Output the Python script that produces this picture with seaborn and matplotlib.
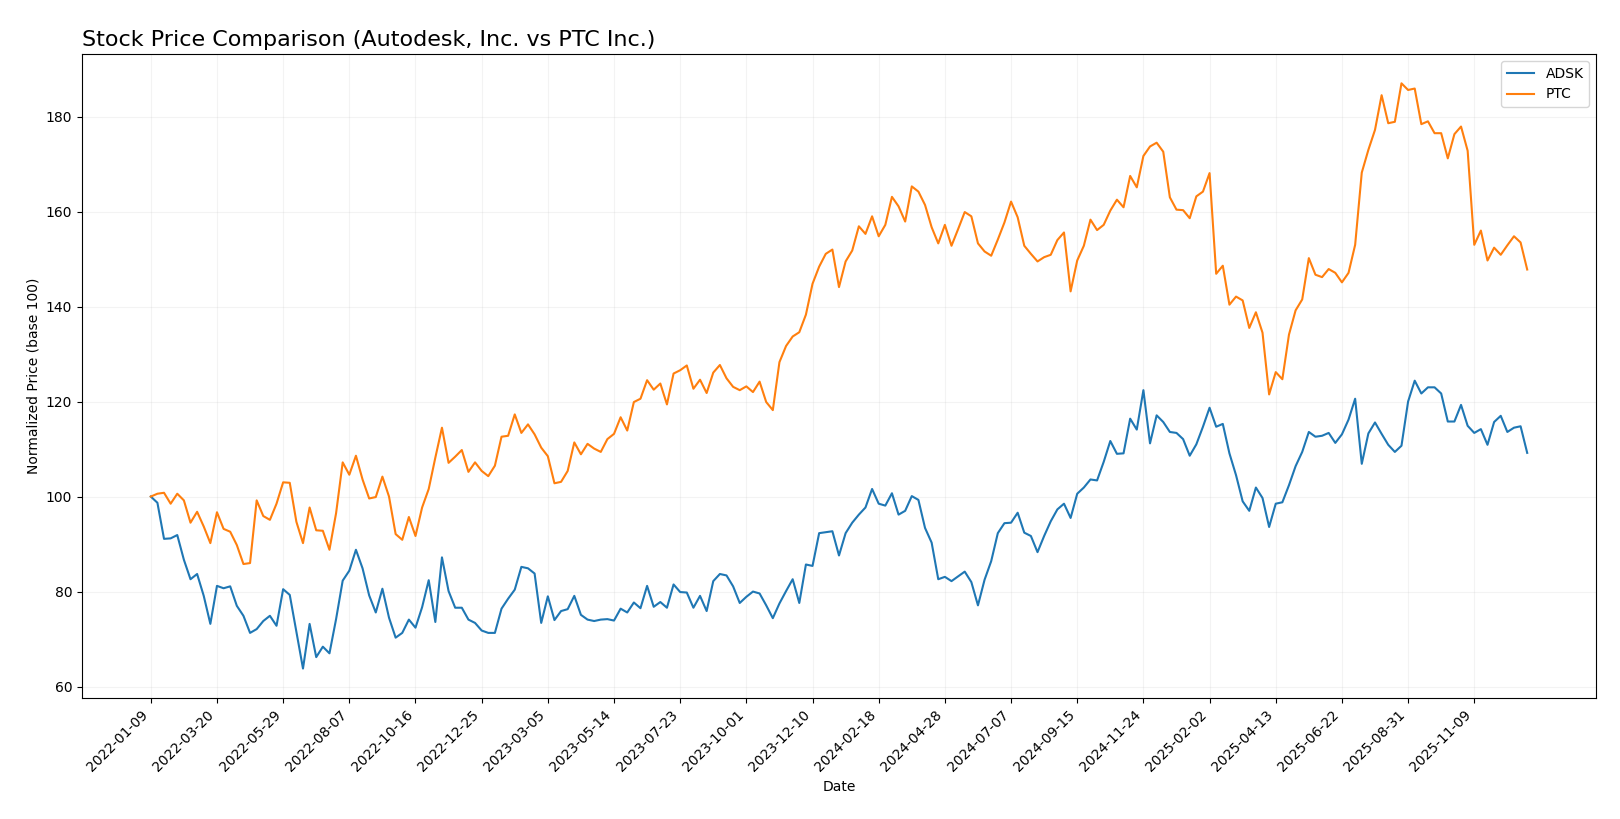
import pandas as pd
import matplotlib
matplotlib.use("Agg")
import matplotlib.pyplot as plt
import seaborn as sns

# weekly closes, normalised to 100 at the first week
start_date = "2022-01-09"
n_weeks = 209

adsk = [
    100, 98.7, 91.1, 91.2, 91.9, 86.7, 82.6, 83.7, 79.1, 73.2,
    81.2, 80.7, 81.1, 77.0, 74.9, 71.3, 72.1, 73.8, 74.9, 72.8,
    80.5, 79.3, 71.6, 63.8, 73.2, 66.2, 68.4, 67.0, 74.2, 82.3,
    84.4, 88.8, 84.9, 79.2, 75.6, 80.6, 74.5, 70.3, 71.3, 74.1,
    72.4, 76.7, 82.4, 73.6, 87.2, 80.1, 76.6, 76.6, 74.1, 73.4,
    71.8, 71.3, 71.3, 76.4, 78.5, 80.4, 85.2, 84.9, 83.8, 73.4,
    79.0, 74.0, 75.9, 76.3, 79.1, 75.1, 74.1, 73.8, 74.1, 74.2,
    73.9, 76.4, 75.6, 77.7, 76.5, 81.2, 76.8, 77.8, 76.6, 81.5,
    79.9, 79.8, 76.6, 79.1, 75.9, 82.2, 83.7, 83.4, 81.1, 77.6,
    78.9, 80.0, 79.6, 77.1, 74.4, 77.5, 80.1, 82.6, 77.6, 85.7,
    85.4, 92.3, 92.5, 92.7, 87.6, 92.3, 94.5, 96.2, 97.7, 101.6,
    98.5, 98.1, 100.7, 96.2, 97.0, 100.1, 99.3, 93.4, 90.3, 82.6,
    83.1, 82.2, 83.2, 84.2, 82.0, 77.1, 82.5, 86.4, 92.3, 94.4,
    94.5, 96.6, 92.4, 91.7, 88.3, 91.7, 94.8, 97.3, 98.5, 95.5,
    100.6, 101.9, 103.6, 103.4, 107.3, 111.7, 109.0, 109.1, 116.4, 114.1,
    122.4, 111.2, 117.1, 115.7, 113.6, 113.4, 112.1, 108.6, 111.0, 114.7,
    118.7, 114.7, 115.3, 109.1, 104.5, 99.0, 97.0, 101.9, 99.7, 93.6,
    98.5, 98.8, 102.4, 106.4, 109.4, 113.6, 112.6, 112.8, 113.4, 111.3,
    113.1, 116.2, 120.6, 106.9, 113.3, 115.6, 113.2, 110.9, 109.4, 110.7,
    120.0, 124.4, 121.7, 123.0, 123.0, 121.7, 115.8, 115.8, 119.3, 114.9,
    113.4, 114.2, 110.9, 115.7, 117.0, 113.6, 114.5, 114.8, 109.2,
]

ptc = [
    100, 100.6, 100.8, 98.5, 100.6, 99.2, 94.5, 96.8, 93.7, 90.2,
    96.7, 93.2, 92.6, 89.8, 85.8, 86.0, 99.2, 95.9, 95.1, 98.5,
    103.0, 102.9, 94.7, 90.2, 97.7, 92.9, 92.8, 88.8, 96.5, 107.2,
    104.6, 108.6, 103.6, 99.6, 99.9, 104.2, 100.0, 92.1, 90.9, 95.7,
    91.7, 97.7, 101.6, 108.2, 114.5, 107.1, 108.4, 109.8, 105.2, 107.2,
    105.4, 104.3, 106.5, 112.6, 112.8, 117.3, 113.4, 115.2, 113.1, 110.3,
    108.5, 102.8, 103.1, 105.4, 111.4, 108.9, 111.1, 110.1, 109.4, 112.1,
    113.2, 116.7, 113.9, 119.9, 120.6, 124.5, 122.5, 123.8, 119.4, 125.9,
    126.6, 127.6, 122.7, 124.6, 121.8, 126.1, 127.7, 124.9, 123.1, 122.4,
    123.2, 122.0, 124.2, 119.9, 118.2, 128.3, 131.7, 133.7, 134.6, 138.3,
    144.8, 148.4, 151.1, 152.0, 144.1, 149.5, 151.8, 156.9, 155.3, 159.0,
    154.8, 157.2, 163.1, 161.1, 157.9, 165.3, 164.2, 161.4, 156.7, 153.3,
    157.2, 152.8, 156.3, 159.9, 159.0, 153.3, 151.6, 150.7, 154.1, 157.7,
    162.1, 158.8, 152.8, 151.1, 149.5, 150.4, 150.9, 154.0, 155.6, 143.2,
    149.7, 152.8, 158.3, 156.1, 157.2, 160.2, 162.5, 160.9, 167.5, 165.1,
    171.7, 173.7, 174.5, 172.6, 163.0, 160.4, 160.3, 158.6, 163.2, 164.2,
    168.1, 146.9, 148.6, 140.4, 142.1, 141.3, 135.5, 138.8, 134.5, 121.5,
    126.2, 124.7, 134.1, 139.2, 141.5, 150.2, 146.7, 146.2, 147.9, 147.1,
    145.1, 147.1, 153.0, 168.2, 173.0, 177.2, 184.5, 178.6, 178.9, 187.0,
    185.6, 185.9, 178.4, 179.0, 176.5, 176.5, 171.2, 176.3, 177.9, 172.8,
    153.0, 156.0, 149.7, 152.4, 150.9, 152.9, 154.8, 153.5, 147.8,
]

tickers = ["ADSK", "PTC"]
colors = ["#1f77b4", "#ff7f0e"]

dates = pd.date_range(start_date, periods=n_weeks, freq="7D")
df = pd.DataFrame({"Date": dates, "ADSK": adsk, "PTC": ptc})

fig, ax = plt.subplots(figsize=(16.2, 8.19), dpi=100)
for t, c in zip(tickers, colors):
    sns.lineplot(data=df, x="Date", y=t, ax=ax, color=c, label=t, linewidth=1.5)

ax.set_title("Stock Price Comparison (Autodesk, Inc. vs PTC Inc.)", loc="left", fontsize=16)
ax.set_xlabel("Date")
ax.set_ylabel("Normalized Price (base 100)")
ax.set_xticks(dates[::10])
ax.set_xticklabels([d.strftime("%Y-%m-%d") for d in dates[::10]], rotation=45, ha="right")
ax.grid(True, alpha=0.15)
ax.legend(loc="upper right")

# margins taken from the reference layout
fig.subplots_adjust(left=0.0506, right=0.9852, top=0.934, bottom=0.148)
plt.savefig("out.png")
